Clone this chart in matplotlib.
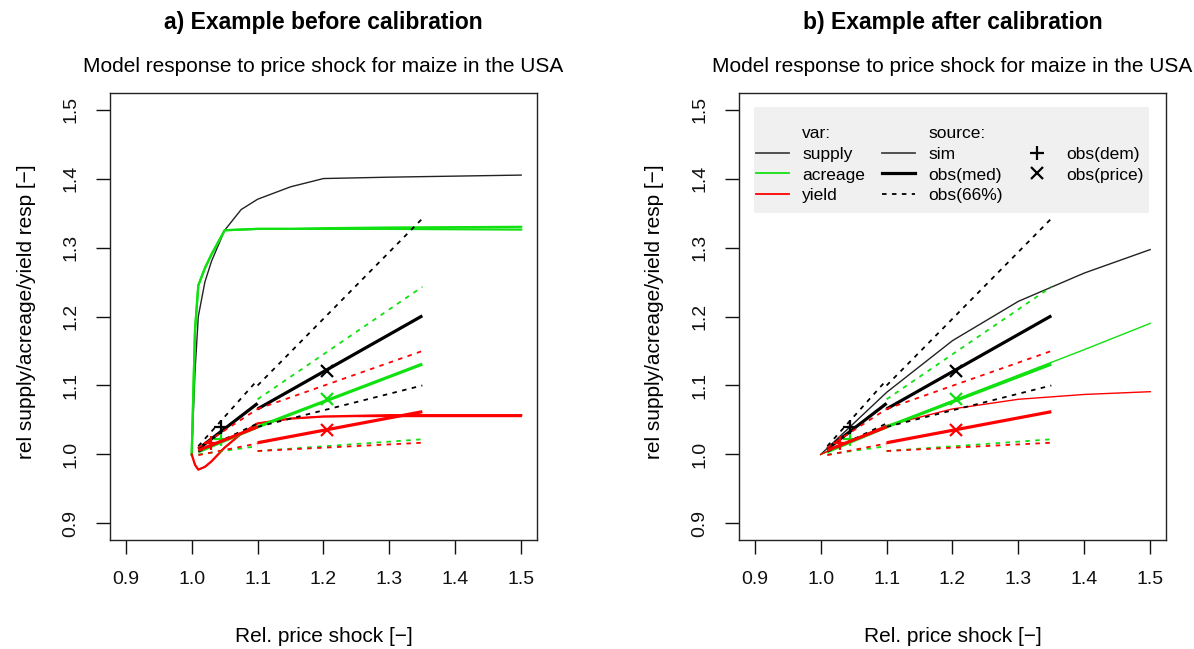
import matplotlib
matplotlib.use('Agg')
import matplotlib.pyplot as plt
from matplotlib.lines import Line2D
from matplotlib.patches import Rectangle

plt.rcParams['font.family'] = ['Liberation Sans', 'DejaVu Sans']

# ---------------- data ----------------
tick_vals = [0.9, 1.0, 1.1, 1.2, 1.3, 1.4, 1.5]
tick_labels = ['0.9', '1.0', '1.1', '1.2', '1.3', '1.4', '1.5']

# simulated response before calibration
sim_x_before = [1.0, 1.005, 1.01, 1.02, 1.03, 1.05, 1.075, 1.1, 1.15, 1.2, 1.3, 1.5]
sim_supply_before = [1.0, 1.12, 1.2, 1.25, 1.28, 1.325, 1.355, 1.37, 1.388, 1.40, 1.402, 1.405]
sim_acreage_before = [1.0, 1.18, 1.245, 1.27, 1.29, 1.325, 1.326, 1.327, 1.327, 1.327, 1.327, 1.326]
sim_acreage_before_2 = [1.0, 1.18, 1.245, 1.27, 1.29, 1.325, 1.326, 1.327, 1.327, 1.328, 1.329, 1.330]
sim_yield_before = [1.0, 0.985, 0.978, 0.982, 0.99, 1.01, 1.03, 1.045, 1.052, 1.055, 1.055, 1.055]
sim_yield_before_2 = [1.0, 0.985, 0.978, 0.982, 0.99, 1.01, 1.03, 1.045, 1.052, 1.055, 1.057, 1.057]

# simulated response after calibration
sim_x_after = [1.0, 1.05, 1.1, 1.2, 1.3, 1.4, 1.5]
sim_supply_after = [1.0, 1.045, 1.09, 1.165, 1.222, 1.263, 1.297]
sim_acreage_after = [1.0, 1.02, 1.04, 1.078, 1.115, 1.152, 1.19]
sim_yield_after = [1.0, 1.022, 1.042, 1.066, 1.08, 1.087, 1.091]

# observations: demand-shock based (short range) and price-based
obs_dem_x = [1.01, 1.10]
obs_price_x = [1.10, 1.35]

supply_dem_med = [1.008, 1.074]
supply_dem_lo = [1.004, 1.045]
supply_dem_hi = [1.012, 1.108]
acreage_dem_med = [1.004, 1.040]
acreage_dem_lo = [1.000, 1.012]
acreage_dem_hi = [1.008, 1.075]
yield_dem_med = [1.006, 1.040]
yield_dem_lo = [0.999, 1.016]
yield_dem_hi = [1.010, 1.066]

supply_price_med = [1.066, 1.201]
supply_price_lo = [1.040, 1.100]
supply_price_hi = [1.100, 1.342]
acreage_price_med = [1.040, 1.131]
acreage_price_lo = [1.005, 1.022]
acreage_price_hi = [1.080, 1.243]
yield_price_med = [1.017, 1.062]
yield_price_lo = [1.005, 1.017]
yield_price_hi = [1.066, 1.150]

# marker points (+ obs(dem), x obs(price))
dem_mark_x = [1.045, 1.045, 1.03]
dem_mark_y = [1.040, 1.022, 1.016]
price_mark_x = [1.205, 1.205, 1.205]
price_mark_y = [1.121, 1.080, 1.036]

var_names = ['supply', 'acreage', 'yield']
var_colors = ['#000000', '#11e011', '#ff0000']

# ---------------- figure ----------------
W, H = 1194, 649
fig = plt.figure(figsize=(W / 100, H / 100), dpi=100)

def px_axes(left, top, right, bottom):
    return [left / W, 1 - bottom / H, (right - left) / W, (bottom - top) / H]

ax1 = fig.add_axes(px_axes(110, 93, 537, 540))
ax2 = fig.add_axes(px_axes(739, 93, 1166, 540))

LW_SIM = 1.0
LW_MED = 2.3
LW_CI = 1.3
DASH = (0, (2.5, 3.0))

def draw_obs(ax):
    meds_d = [supply_dem_med, acreage_dem_med, yield_dem_med]
    los_d = [supply_dem_lo, acreage_dem_lo, yield_dem_lo]
    his_d = [supply_dem_hi, acreage_dem_hi, yield_dem_hi]
    meds_p = [supply_price_med, acreage_price_med, yield_price_med]
    los_p = [supply_price_lo, acreage_price_lo, yield_price_lo]
    his_p = [supply_price_hi, acreage_price_hi, yield_price_hi]
    for i in [1, 0, 2]:
        c = var_colors[i]
        ax.plot(obs_dem_x, los_d[i], color=c, lw=LW_CI, ls=DASH)
        ax.plot(obs_dem_x, his_d[i], color=c, lw=LW_CI, ls=DASH)
        ax.plot(obs_price_x, los_p[i], color=c, lw=LW_CI, ls=DASH)
        ax.plot(obs_price_x, his_p[i], color=c, lw=LW_CI, ls=DASH)
        ax.plot(obs_dem_x, meds_d[i], color=c, lw=LW_MED, solid_capstyle='butt')
        ax.plot(obs_price_x, meds_p[i], color=c, lw=LW_MED, solid_capstyle='butt')
        ax.plot(dem_mark_x[i], dem_mark_y[i], marker='+', color=c, ms=10, mew=1.6, ls='none')
        ax.plot(price_mark_x[i], price_mark_y[i], marker='x', color=c, ms=8, mew=1.6, ls='none')

# before calibration
ax1.plot(sim_x_before, sim_supply_before, color='#222222', lw=LW_SIM)
ax1.plot(sim_x_before, sim_acreage_before, color=var_colors[1], lw=LW_SIM + 0.6)
ax1.plot(sim_x_before, sim_acreage_before_2, color=var_colors[1], lw=LW_SIM + 0.6)
ax1.plot(sim_x_before, sim_yield_before, color=var_colors[2], lw=LW_SIM)
ax1.plot(sim_x_before, sim_yield_before_2, color=var_colors[2], lw=LW_SIM + 0.6)
draw_obs(ax1)

# after calibration
ax2.plot(sim_x_after, sim_supply_after, color='#222222', lw=LW_SIM)
ax2.plot(sim_x_after, sim_acreage_after, color=var_colors[1], lw=LW_SIM)
ax2.plot(sim_x_after, sim_yield_after, color=var_colors[2], lw=LW_SIM)
draw_obs(ax2)

for ax in (ax1, ax2):
    ax.set_xlim(0.876, 1.524)
    ax.set_ylim(0.876, 1.524)
    ax.set_xticks(tick_vals)
    ax.set_xticklabels(tick_labels)
    ax.set_yticks(tick_vals)
    ax.set_yticklabels(tick_labels, rotation=90, va='center')
    ax.tick_params(axis='both', direction='out', length=10, width=1.0,
                   labelsize=14, colors='#111111')
    ax.tick_params(axis='x', pad=12)
    ax.tick_params(axis='y', pad=12)
    for s in ax.spines.values():
        s.set_linewidth(1.0)
        s.set_color('#222222')

# titles and labels
def axcx(ax):
    b = ax.get_position()
    return b.x0 + b.width / 2

fig.text(axcx(ax1), 1 - 23 / H, 'a) Example before calibration', ha='center', va='center',
         fontsize=16.5, fontweight='bold')
fig.text(axcx(ax2), 1 - 23 / H, 'b) Example after calibration', ha='center', va='center',
         fontsize=16.5, fontweight='bold')
for ax in (ax1, ax2):
    fig.text(axcx(ax), 1 - 67 / H, 'Model response to price shock for maize in the USA',
             ha='center', va='center', fontsize=15)
    fig.text(axcx(ax), 1 - 637 / H, 'Rel. price shock [\u2212]', ha='center', va='center',
             fontsize=15)
fig.text(27 / W, 1 - 312 / H, 'rel supply/acreage/yield resp [\u2212]', rotation=90,
         ha='center', va='center', fontsize=15)
fig.text(655 / W, 1 - 312 / H, 'rel supply/acreage/yield resp [\u2212]', rotation=90,
         ha='center', va='center', fontsize=15)

# legend background box (R-style legend with grey fill)
ax2.add_patch(Rectangle((0.035, 0.7315), 0.925, 0.2375, transform=ax2.transAxes,
                        facecolor='#f0f0f0', edgecolor='none', zorder=4))

blank = Line2D([], [], ls='none')
h_supply = Line2D([], [], color='#444444', lw=1.3)
h_acre = Line2D([], [], color=var_colors[1], lw=1.3)
h_yield = Line2D([], [], color=var_colors[2], lw=1.3)
h_sim = Line2D([], [], color='#444444', lw=1.3)
h_med = Line2D([], [], color='black', lw=2.3)
h_ci = Line2D([], [], color='black', lw=1.3, ls=DASH)
h_dem = Line2D([], [], color='black', marker='+', ms=10, mew=1.6, ls='none')
h_price = Line2D([], [], color='black', marker='x', ms=8, mew=1.6, ls='none')
handles = [blank, h_supply, h_acre, h_yield,
           blank, h_sim, h_med, h_ci,
           blank, h_dem, h_price, blank]
labels = ['var:'] + var_names + ['source:', 'sim', 'obs(med)', 'obs(66%)', '', 'obs(dem)', 'obs(price)', '']
leg = ax2.legend(handles, labels, ncol=3, loc='upper left', bbox_to_anchor=(0.040, 0.927),
                 fontsize=12.5, frameon=False, borderpad=0.0, labelspacing=0.33,
                 handlelength=1.9, handletextpad=0.75, columnspacing=1.0, borderaxespad=0)
leg.set_zorder(5)

fig.savefig('out.png', dpi=100, facecolor='white')
